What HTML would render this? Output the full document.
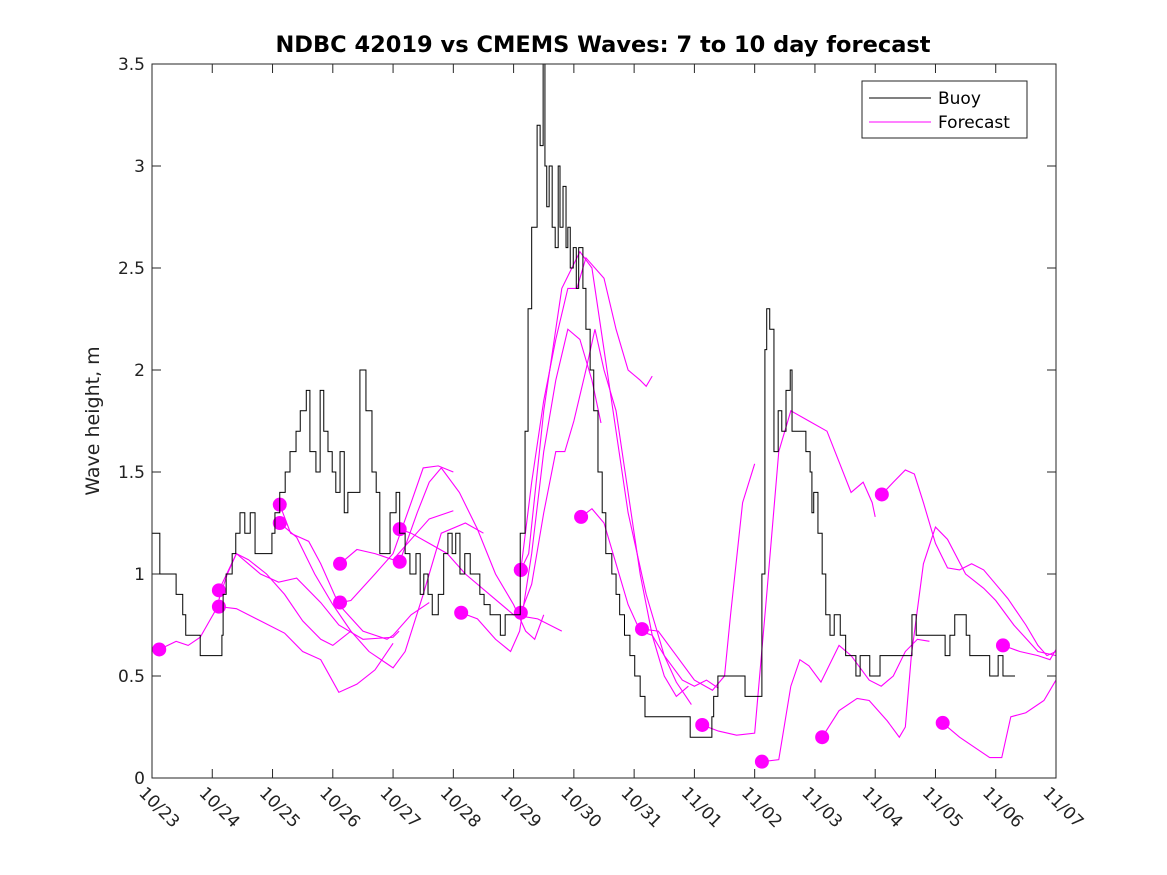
<!DOCTYPE html>
<html><head><meta charset="utf-8"><style>
body{margin:0;background:#fff;}
svg{display:block;font-family:"DejaVu Sans","Liberation Sans",sans-serif;}
</style></head><body>
<svg id="chart" width="1167" height="875" viewBox="0 0 1167 875">
<rect x="0" y="0" width="1167" height="875" fill="#fff"/>
<text x="603" y="52" text-anchor="middle" font-size="22.5" font-weight="bold" fill="#000">NDBC 42019 vs CMEMS Waves: 7 to 10 day forecast</text>
<text transform="translate(99,421) rotate(-90)" text-anchor="middle" font-size="19" fill="#222">Wave height, m</text>
<g id="grid"></g>
<g id="series"></g>
<rect x="152" y="64" width="904" height="714" fill="none" stroke="#262626" stroke-width="1"/>
<g>
<rect x="862" y="81" width="165" height="57" fill="#fff" stroke="#262626"/>
<line x1="869" y1="98" x2="931" y2="98" stroke="#000"/>
<text x="938" y="104" font-size="17">Buoy</text>
<line x1="869" y1="122" x2="931" y2="122" stroke="#f0f"/>
<text x="938" y="128" font-size="17">Forecast</text>
</g>
</svg>
<script>
const xTickLabels=["10/23","10/24","10/25","10/26","10/27","10/28","10/29","10/30","10/31","11/01","11/02","11/03","11/04","11/05","11/06","11/07"];
const yTicks=[0,0.5,1,1.5,2,2.5,3,3.5];
const buoyT=[0,.13,.30,.40,.51,.56,.80,1.16,1.18,1.23,1.33,1.39,1.46,1.54,1.63,1.71,1.83,1.99,2.04,2.12,2.21,2.29,2.39,2.46,2.56,2.62,2.72,2.79,2.85,2.92,2.99,3.05,3.12,3.19,3.25,3.32,3.45,3.48,3.55,3.65,3.72,3.78,3.83,3.95,4.05,4.11,4.20,4.28,4.38,4.45,4.51,4.58,4.65,4.75,4.84,4.91,4.98,5.04,5.11,5.19,5.28,5.44,5.51,5.61,5.78,5.86,5.94,6.11,6.19,6.24,6.30,6.39,6.44,6.49,6.52,6.55,6.59,6.64,6.69,6.74,6.77,6.82,6.87,6.90,6.94,6.99,7.04,7.08,7.15,7.20,7.27,7.33,7.40,7.47,7.53,7.63,7.70,7.76,7.84,7.93,8.01,8.10,8.18,8.26,8.93,9.01,9.29,9.32,9.39,9.59,9.84,9.89,10.12,10.17,10.20,10.25,10.32,10.39,10.45,10.52,10.59,10.62,10.69,10.85,10.92,10.95,10.98,11.05,11.12,11.18,11.25,11.32,11.42,11.51,11.61,11.68,11.75,11.91,12.08,12.41,12.61,12.68,12.88,13.16,13.24,13.32,13.51,13.57,13.71,13.90,14.04,14.12,14.20,14.32];
const buoyH=[1.2,1.0,1.0,0.9,0.8,0.7,0.6,0.7,0.9,1.0,1.1,1.2,1.3,1.2,1.3,1.1,1.1,1.2,1.3,1.4,1.5,1.6,1.7,1.8,1.9,1.6,1.5,1.9,1.7,1.6,1.5,1.4,1.6,1.3,1.4,1.4,2.0,2.0,1.8,1.5,1.4,1.1,1.1,1.3,1.4,1.2,1.1,1.0,1.1,0.9,1.0,0.9,0.8,0.9,1.1,1.2,1.1,1.2,1.0,1.1,1.0,0.9,0.85,0.8,0.7,0.8,0.8,1.2,1.7,2.3,2.7,3.2,3.1,3.5,3.0,2.8,3.0,2.7,2.6,3.0,2.7,2.9,2.6,2.7,2.5,2.6,2.4,2.6,2.4,2.2,2.0,1.8,1.5,1.3,1.1,1.0,0.9,0.8,0.7,0.6,0.5,0.4,0.3,0.3,0.2,0.2,0.3,0.4,0.5,0.5,0.4,0.4,1.0,2.1,2.3,2.2,1.6,1.8,1.7,1.9,2.0,1.7,1.7,1.6,1.5,1.3,1.4,1.2,1.0,0.8,0.7,0.8,0.7,0.6,0.6,0.5,0.6,0.5,0.6,0.6,0.8,0.7,0.7,0.6,0.7,0.8,0.7,0.6,0.6,0.5,0.6,0.5,0.5];
const fc01=[[.12,.63],[.4,.67],[.6,.65],[.8,.69],[1.05,.82],[1.25,1.0],[1.4,1.1],[1.6,1.07],[1.9,1.0],[2.2,.9],[2.5,.77],[2.8,.68],[3.0,.65],[3.3,.72]];
const fc02=[[1.11,.92],[1.4,1.1],[1.8,1.0],[2.1,.96],[2.4,.98],[2.8,.86],[3.1,.75],[3.5,.68],[4.0,.69],[4.1,.72]];
const fc03=[[1.11,.84],[1.4,.83],[1.8,.77],[2.2,.71],[2.5,.62],[2.8,.58],[3.1,.42],[3.4,.46],[3.7,.53],[4.0,.66]];
const fc04=[[2.12,1.34],[2.3,1.2],[2.6,1.16],[2.8,1.05],[3.1,.85],[3.5,.72],[3.9,.68],[4.0,.7],[4.3,.8],[4.6,.86]];
const fc05=[[2.12,1.25],[2.4,1.18],[2.7,1.0],[3.0,.85],[3.3,.72],[3.6,.62],[3.9,.56],[4.0,.54],[4.2,.62],[4.5,.9],[4.8,1.2],[5.2,1.25],[5.5,1.2]];
const fc06=[[3.12,1.05],[3.4,1.12],[3.7,1.1],[4.0,1.07],[4.3,1.17],[4.6,1.27],[5.0,1.31]];
const fc07=[[3.12,.86],[3.3,.87],[3.7,1.0],[4.0,1.1],[4.3,1.35],[4.5,1.52],[4.75,1.53],[5.0,1.5]];
const fc08=[[4.11,1.22],[4.3,1.2],[4.6,1.15],[4.9,1.1],[5.2,1.0],[5.6,.9],[6.0,.8],[6.4,.78],[6.8,.72]];
const fc09=[[4.11,1.06],[4.4,1.3],[4.6,1.45],[4.8,1.52],[5.1,1.4],[5.4,1.22],[5.7,1.0],[6.0,.85],[6.2,.72],[6.35,.68],[6.5,.8]];
const fc10=[[5.13,.81],[5.4,.78],[5.7,.68],[5.95,.62],[6.1,.72],[6.3,1.1],[6.5,1.6],[6.7,1.95],[6.9,2.2],[7.1,2.15],[7.3,1.95],[7.45,1.74]];
const fc11=[[6.12,1.02],[6.3,1.45],[6.5,1.85],[6.7,2.15],[6.9,2.4],[7.05,2.4],[7.2,2.55],[7.5,2.45],[7.7,2.2],[7.9,2.0],[8.1,1.95],[8.2,1.92],[8.3,1.97]];
const fc12=[[6.12,.81],[6.3,.95],[6.5,1.3],[6.7,1.6],[6.85,1.6],[7.0,1.75],[7.2,2.0],[7.35,2.2],[7.5,2.0],[7.7,1.8],[7.9,1.4],[8.1,1.0],[8.3,.7],[8.5,.5],[8.7,.4],[8.9,.45]];
const fc13=[[6.12,1.02],[6.25,1.1],[6.5,1.8],[6.8,2.4],[7.1,2.58],[7.3,2.5],[7.6,1.9],[7.9,1.3],[8.2,.9],[8.5,.6],[8.7,.47],[8.95,.36]];
const fc14=[[7.12,1.28],[7.3,1.32],[7.5,1.25],[7.7,1.05],[7.9,.85],[8.1,.72],[8.3,.7],[8.5,.6],[8.8,.48],[9.0,.45],[9.2,.48],[9.4,.44]];
const fc15=[[8.13,.73],[8.4,.72],[8.7,.6],[9.0,.48],[9.3,.43],[9.5,.5],[9.6,.8],[9.8,1.35],[10.0,1.54]];
const fc16=[[9.13,.26],[9.4,.23],[9.7,.21],[10.0,.22],[10.2,.9],[10.4,1.6],[10.6,1.8],[10.9,1.75],[11.2,1.7],[11.4,1.55],[11.6,1.4],[11.8,1.45],[11.95,1.35],[12.0,1.28]];
const fc17=[[10.12,.08],[10.4,.09],[10.6,.45],[10.75,.58],[10.9,.55],[11.1,.47],[11.4,.65],[11.6,.6],[11.9,.48],[12.1,.45],[12.3,.5],[12.5,.62],[12.7,.68],[12.9,.67]];
const fc18=[[11.12,.2],[11.4,.33],[11.7,.39],[11.9,.38],[12.2,.28],[12.4,.2],[12.5,.25],[12.6,.6],[12.8,1.05],[13.0,1.23],[13.2,1.17],[13.5,1.0],[13.8,.93],[14.0,.87],[14.3,.75],[14.7,.62],[15,.6]];
const fc19=[[12.11,1.39],[12.3,1.45],[12.5,1.51],[12.65,1.49],[12.8,1.35],[13.0,1.15],[13.2,1.03],[13.4,1.02],[13.6,1.05],[13.8,1.02],[14.0,.95],[14.2,.88],[14.5,.75],[14.7,.65],[14.85,.6],[15,.62]];
const fc20=[[13.12,.27],[13.4,.2],[13.7,.14],[13.9,.1],[14.1,.1],[14.25,.3],[14.5,.32],[14.8,.38],[15,.48]];
const fc21=[[14.12,.65],[14.4,.62],[14.7,.6],[14.9,.58],[15,.63]];
const forecasts=[fc01,fc02,fc03,fc04,fc05,fc06,fc07,fc08,fc09,fc10,fc11,fc12,fc13,fc14,fc15,fc16,fc17,fc18,fc19,fc20,fc21];

const NS="http://www.w3.org/2000/svg";
const X0=152,X1=1056,Y0=778,Y1=64,DAYS=15,YMAX=3.5;
const xs=d=>X0+d*(X1-X0)/DAYS;
const ys=v=>Y0-v*(Y0-Y1)/YMAX;
const grid=document.getElementById('grid'), ser=document.getElementById('series');
function mk(tag,attrs,parent){const e=document.createElementNS(NS,tag);for(const k in attrs)e.setAttribute(k,attrs[k]);parent.appendChild(e);return e;}
yTicks.forEach(v=>{
  const y=ys(v);
  mk('line',{x1:X0,y1:y,x2:X0+9,y2:y,stroke:'#262626'},grid);
  mk('line',{x1:X1,y1:y,x2:X1-9,y2:y,stroke:'#262626'},grid);
  const t=mk('text',{x:X0-7,y:y+6,'text-anchor':'end','font-size':'17',fill:'#222'},grid);
  
  
  t.textContent=String(v);
});
xTickLabels.forEach((lab,i)=>{
  const x=xs(i);
  mk('line',{x1:x,y1:Y0,x2:x,y2:Y0-9,stroke:'#262626'},grid);
  mk('line',{x1:x,y1:Y1,x2:x,y2:Y1+9,stroke:'#262626'},grid);
  const t=mk('text',{transform:`translate(${x-14},${Y0+16}) rotate(45)`,'font-size':'17',fill:'#222'},grid);
  
  
  t.textContent=lab;
});
forecasts.forEach((f,i)=>{
  const pl=mk('polyline',{points:f.map(p=>xs(p[0])+','+ys(p[1])).join(' '),fill:'none',stroke:'#f0f','stroke-width':'1.1'},ser);
  
  
  const c=mk('circle',{cx:xs(f[0][0]),cy:ys(f[0][1]),r:7,fill:'#f0f'},ser);
  
  
});
let pts=[];
for(let i=0;i<buoyT.length;i++){
  if(i>0)pts.push(xs(buoyT[i])+','+ys(buoyH[i-1]));
  pts.push(xs(buoyT[i])+','+ys(buoyH[i]));
}
pts.push(xs(14.42)+','+ys(buoyH[buoyH.length-1]));
const bl=mk('polyline',{points:pts.join(' '),fill:'none',stroke:'#000','stroke-width':'1'},ser);


</script>
</body></html>
